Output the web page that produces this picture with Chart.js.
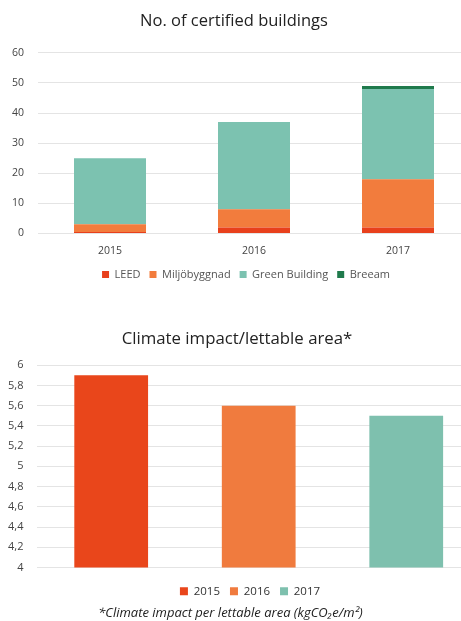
<!DOCTYPE html>
<html><head><meta charset="utf-8">
<script src="https://cdn.jsdelivr.net/npm/chart.js@4.4.1/dist/chart.umd.min.js"></script>
<style>
html,body{margin:0;padding:0;background:#fff;overflow:hidden;width:461px;height:621px;}
#c1wrap{position:absolute;left:-2px;top:0;width:472px;height:292px;}
#c2wrap{position:absolute;left:-6px;top:321px;width:486px;height:286px;}
#note{position:absolute;left:0;width:461px;top:603px;text-align:center;font-family:"Open Sans",sans-serif;font-style:italic;font-size:13px;color:#222;}
</style></head>
<body>
<div id="c1wrap"><canvas id="c1"></canvas></div>
<div id="c2wrap"><canvas id="c2"></canvas></div>
<div id="note">*Climate impact per lettable area (kgCO₂e/m²)</div>
<script>
const years = ["2015","2016","2017"];
const leed = [0.5, 2, 2];
const miljobyggnad = [2.5, 6, 16];
const greenBuilding = [22, 29, 30];
const breeam = [0, 0, 1];
const yTicks1 = [0,10,20,30,40,50,60];

const climateYears = ["2015","2016","2017"];
const climateValues = [5.9, 5.6, 5.5];

const FONT = '"Open Sans", sans-serif';
const gridColor = '#e4e4e4';

const legendShift = dx => ({id:'legendShift', afterLayout(chart){
  if (chart.legend) { chart.legend.left += dx; chart.legend.right += dx; }
}});

new Chart(document.getElementById('c1'), {
  type: 'bar',
  data: {
    labels: years,
    datasets: [
      {label:'LEED', data: leed, backgroundColor:'#e8401c'},
      {label:'Miljöbyggnad', data: miljobyggnad, backgroundColor:'#f27c3d'},
      {label:'Green Building', data: greenBuilding, backgroundColor:'#7cc2b0'},
      {label:'Breeam', data: breeam, backgroundColor:'#1f7a4c'}
    ]
  },
  plugins: [legendShift(12)],
  options: {
    responsive: true, maintainAspectRatio: false, animation: false,
    devicePixelRatio: 1,
    layout: {padding: {left: 0, right: 0, top: 8, bottom: 2}},
    datasets: {bar: {barPercentage: 0.5, categoryPercentage: 1.0}},
    plugins: {
      title: {display: true, text: 'No. of certified buildings', color:'#222',
        font:{family: FONT, size: 16.5, weight:'normal'}, padding:{top:3,bottom:22}},
      legend: {position:'bottom', labels:{boxWidth:7, boxHeight:7, color:'#555', padding:9,
        font:{family:FONT, size:11}}},
      tooltip: {enabled:false}
    },
    scales: {
      x: {stacked: true, grid:{display:false}, border:{display:false},
        ticks:{color:'#444', font:{family:FONT, size:10.5}, padding:3}},
      y: {stacked: true, min:0, max:60,
        afterBuildTicks: a => { a.ticks = yTicks1.map(v => ({value:v})); },
        grid:{color:gridColor, drawTicks:false}, border:{display:false},
        ticks:{color:'#444', font:{family:FONT, size:10.5}, padding:14}}
    }
  }
});

const c2colors = ['#e9461b','#f07b3e','#7ec0ae'];
new Chart(document.getElementById('c2'), {
  type: 'bar',
  data: {
    labels: climateYears,
    datasets: [{label:'Climate impact', data: climateValues, backgroundColor: c2colors}]
  },
  plugins: [legendShift(13)],
  options: {
    responsive: true, maintainAspectRatio: false, animation: false,
    devicePixelRatio: 1,
    layout: {padding: {left: 0, right: 0, top: 0, bottom: 0}},
    datasets: {bar: {barPercentage: 0.5, categoryPercentage: 1.0}},
    plugins: {
      title: {display: true, text: 'Climate impact/lettable area*', color:'#222',
        font:{family: FONT, size: 16.8, weight:'normal'}, padding:{top:8,bottom:16}},
      legend: {position:'bottom', labels:{boxWidth:8, boxHeight:8, color:'#333', padding:10,
        font:{family:FONT, size:11.5},
        generateLabels: ch => climateYears.map((y,i) => ({text:y, fillStyle:c2colors[i], strokeStyle:c2colors[i], lineWidth:0, index:i, fontColor:'#333'}))},
        onClick: () => {}},
      tooltip: {enabled:false}
    },
    scales: {
      x: {display: true, grid:{display:false}, border:{display:false},
        ticks:{display:false}},
      y: {min:4, max:6,
        ticks:{stepSize:0.2, color:'#444', font:{family:FONT, size:11}, padding:14,
          callback: v => String(Math.round(v*10)/10).replace('.', ',')},
        grid:{color:gridColor, drawTicks:false}, border:{display:false}}
    }
  }
});
</script>
</body></html>
